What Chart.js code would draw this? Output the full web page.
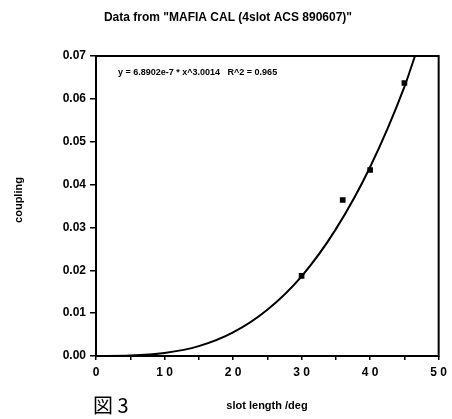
<!DOCTYPE html>
<html>
<head>
<meta charset="utf-8">
<script src="https://cdn.jsdelivr.net/npm/chart.js@4"></script>
<style>
  body { margin: 0; background: #fff; }
  canvas { display: block; }
</style>
</head>
<body>
<canvas id="grafico1" width="452" height="419"></canvas>
<script>
// measured points (slot length / coupling)
const slotLength = [30, 36, 40, 45];
const coupling = [0.0187, 0.0364, 0.0434, 0.0637];

// fitted curve
const fitX = [0, 5, 10, 15, 20, 25, 30, 35, 40, 45, 47];
const fitY = [0, 0.0001, 0.0007, 0.0023, 0.0055, 0.0108, 0.0186, 0.0296, 0.0441, 0.0628, 0.0722];

const titleText = 'Data from "MAFIA CAL (4slot ACS 890607)"';
const fitText = 'y = 6.8902e-7 * x^3.0014   R^2 = 0.965';
const xTitle = 'slot length /deg';
const yTitle = 'coupling';
const figLabel = '図 3';

const FONT = '"Liberation Sans", Arial, sans-serif';

// texts + frame
const decor = {
  id: 'decor',
  afterDraw(chart) {
    const c = chart.ctx;
    const a = chart.chartArea;
    c.save();
    c.strokeStyle = '#000';
    c.lineWidth = 2;
    c.strokeRect(a.left, a.top, a.right - a.left, a.bottom - a.top);

    c.fillStyle = '#000';
    c.font = 'bold 12px ' + FONT;
    c.textAlign = 'center';
    c.textBaseline = 'middle';
    c.fillText(titleText, 228, 18);

    c.font = 'bold 9px ' + FONT;
    c.textAlign = 'left';
    c.fillText(fitText, a.left + 22, a.top + 17);

    c.font = 'bold 11px ' + FONT;
    c.textAlign = 'center';
    c.fillText(xTitle, 267, 406);

    c.save();
    c.translate(19, 200);
    c.rotate(-Math.PI / 2);
    c.fillText(yTitle, 0, 0);
    c.restore();

    c.font = '20px "Noto Sans CJK JP", sans-serif';
    c.textAlign = 'left';
    c.fillText(figLabel, 93, 405);
    c.restore();
  }
};

new Chart(document.getElementById('grafico1'), {
  type: 'scatter',
  data: {
    datasets: [{
      label: 'data',
      data: slotLength.map((x, i) => ({ x: x, y: coupling[i] })),
      pointStyle: 'rect',
      pointRadius: 4,
      backgroundColor: '#000',
      borderColor: '#000',
      borderWidth: 0
    }, {
      label: 'fit',
      type: 'line',
      data: fitX.map((x, i) => ({ x: x, y: fitY[i] })),
      borderColor: '#000',
      borderWidth: 2,
      pointRadius: 0,
      cubicInterpolationMode: 'monotone',
      fill: false
    }]
  },
  plugins: [decor],
  options: {
    responsive: false,
    devicePixelRatio: 1,
    animation: false,
    layout: { padding: { top: 56, right: 12, left: 0, bottom: 0 } },
    plugins: { legend: { display: false }, tooltip: { enabled: false } },
    scales: {
      x: {
        type: 'linear',
        min: 0, max: 50,
        afterFit(s) { s.height = 63; },
        border: { display: false },
        grid: { drawOnChartArea: false, tickLength: 4, color: '#000', lineWidth: 1.5 },
        ticks: {
          stepSize: 5,
          color: '#000',
          padding: 5,
          font: { family: FONT, size: 12, weight: 'bold' },
          callback: v => (v % 10 === 0 ? String(v).split('').join(' ') : '')
        }
      },
      y: {
        min: 0, max: 0.07,
        afterFit(s) { s.width = 96; },
        border: { display: false },
        grid: { drawOnChartArea: false, tickLength: 6, color: '#000', lineWidth: 1.5 },
        ticks: {
          stepSize: 0.01,
          color: '#000',
          padding: 4,
          font: { family: FONT, size: 12, weight: 'bold' },
          callback: v => v.toFixed(2)
        }
      }
    }
  }
});
</script>
</body>
</html>
